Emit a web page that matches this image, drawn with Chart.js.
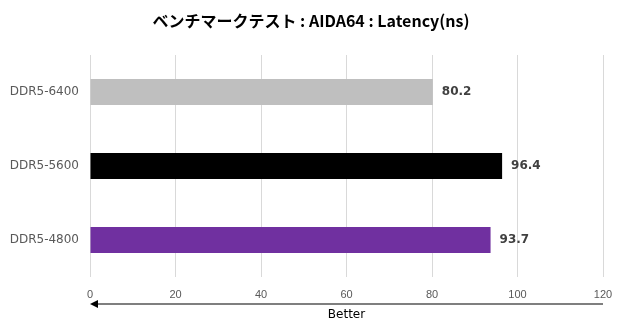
<!DOCTYPE html>
<html>
<head>
<meta charset="utf-8">
<script src="https://cdn.jsdelivr.net/npm/chart.js@4"></script>
<style>
  html, body { margin: 0; padding: 0; background: #fff; }
  #wrap { width: 620px; height: 325px; }
</style>
</head>
<body>
<div id="wrap"><canvas id="c" width="620" height="325"></canvas></div>
<script>
const categories = ['DDR5-6400', 'DDR5-5600', 'DDR5-4800'];
const latency = [80.2, 96.4, 93.7];
const barColors = ['#bfbfbf', '#000000', '#7030a0'];
const xTicks = [0, 20, 40, 60, 80, 100, 120];
const chartTitle = 'ベンチマークテスト : AIDA64 : Latency(ns)';
const arrowLabel = 'Better';

// title, centred on the whole canvas
const titleText = {
    id: 'titleText',
    afterDraw(chart) {
        const ctx = chart.ctx;
        ctx.save();
        ctx.font = 'bold 16px "Noto Sans CJK JP"';
        ctx.fillStyle = '#000';
        ctx.textAlign = 'center';
        ctx.textBaseline = 'middle';
        ctx.fillText(chartTitle, 311, 21);
        ctx.restore();
    }
};

// value labels right of each bar
const valueLabels = {
    id: 'valueLabels',
    afterDatasetsDraw(chart) {
        const ctx = chart.ctx;
        const meta = chart.getDatasetMeta(0);
        ctx.save();
        ctx.font = 'bold 12px "DejaVu Sans"';
        ctx.fillStyle = '#404040';
        ctx.textBaseline = 'middle';
        ctx.textAlign = 'left';
        meta.data.forEach((bar, i) => {
            ctx.fillText(latency[i].toFixed(1), bar.x + 9, bar.y);
        });
        ctx.restore();
    }
};

// "Better" arrow under the x axis
const betterArrow = {
    id: 'betterArrow',
    afterDraw(chart) {
        const ctx = chart.ctx;
        const x = chart.scales.x;
        const x0 = x.getPixelForValue(xTicks[0]);
        const x1 = x.getPixelForValue(xTicks[xTicks.length - 1]);
        const y = 304;
        ctx.save();
        ctx.strokeStyle = '#000';
        ctx.fillStyle = '#000';
        ctx.lineWidth = 1.2;
        ctx.beginPath();
        ctx.moveTo(x1, y);
        ctx.lineTo(x0 + 6, y);
        ctx.stroke();
        ctx.beginPath();
        ctx.moveTo(x0, y);
        ctx.lineTo(x0 + 8, y - 4);
        ctx.lineTo(x0 + 8, y + 4);
        ctx.closePath();
        ctx.fill();
        ctx.font = '12px "DejaVu Sans"';
        ctx.textAlign = 'center';
        ctx.textBaseline = 'middle';
        ctx.fillText(arrowLabel, (x0 + x1) / 2, 315);
        ctx.restore();
    }
};

new Chart(document.getElementById('c').getContext('2d'), {
    type: 'bar',
    data: {
        labels: categories,
        datasets: [{
            data: latency,
            backgroundColor: barColors,
            borderWidth: 0,
            barPercentage: 0.35,
            categoryPercentage: 1
        }]
    },
    options: {
        indexAxis: 'y',
        responsive: false,
        animation: false,
        layout: { padding: { left: 0, right: 0, top: 55, bottom: 0 } },
        plugins: {
            legend: { display: false },
            tooltip: { enabled: false },
            title: { display: false }
        },
        scales: {
            x: {
                min: 0,
                max: 120,
                afterBuildTicks(s) { s.ticks = xTicks.map(v => ({ value: v })); },
                afterFit(s) {
                    s.height = 48;
                    s.paddingLeft = 0;
                    s.paddingRight = 17;
                },
                grid: { color: '#d9d9d9', drawTicks: false, lineWidth: 1 },
                border: { display: false },
                ticks: {
                    padding: 11,
                    color: '#595959',
                    font: { family: '"Liberation Sans"', size: 11 }
                }
            },
            y: {
                afterFit(s) { s.width = 90; },
                grid: { display: false, drawTicks: false },
                border: { display: false },
                ticks: {
                    padding: 11,
                    color: '#595959',
                    font: { family: '"DejaVu Sans"', size: 12 }
                }
            }
        }
    },
    plugins: [titleText, valueLabels, betterArrow]
});
</script>
</body>
</html>
